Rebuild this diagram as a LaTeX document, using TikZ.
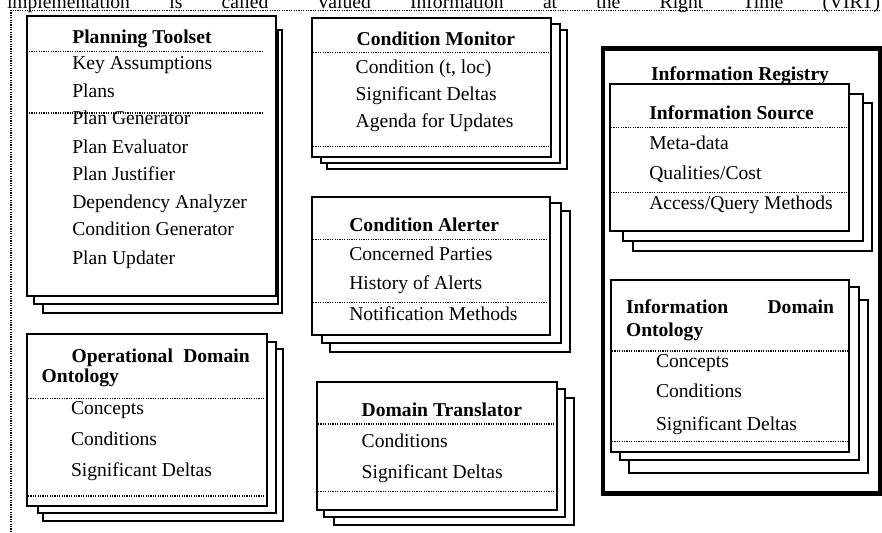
\documentclass[tikz,border=0pt]{standalone}
\usepackage{fontspec}
\setmainfont{Liberation Serif}
\begin{document}
\begin{tikzpicture}[x=1pt,y=-1pt,
  every node/.style={inner sep=0pt, outer sep=0pt, anchor=base west, font=\fontsize{19.6}{22}\selectfont},
  layer/.style={draw=black, line width=1.8pt, fill=white},
  sep/.style={line width=1.1pt, dash pattern=on 1.1pt off 1.3pt},
  frame/.style={line width=1.3pt, dash pattern=on 1.2pt off 1.2pt},
  ttl/.style={font=\fontsize{19.6}{22}\selectfont\bfseries},
  reg/.style={draw=black, line width=4.5pt}]
\useasboundingbox (0,0) rectangle (882,532);
\fill[white] (0,0) rectangle (882,532);

% running text line, cut at the top
\node (head) at (7,8.3) {\makebox[873pt][s]{implementation is called ``Valued Information at the Right Time (VIRT)}\rlap{''}};
\draw[frame] (11,532) -- (11,10.5) -- (882,10.5);

% Planning Toolset
\draw[layer] (43,30) rectangle (282,313);
\draw[layer] (34,30) rectangle (278,304);
\draw[layer] (27,16) rectangle (276,296);
\draw[sep] (29,51.7) -- (263,51.7);
\draw[sep] (29,113) -- (263,113);
\node[ttl] (pt) at (72.3,43.3) {Planning Toolset};
\node (pt1) at (72.3,70) {Key Assumptions};
\node (pt2) at (72.3,97.7) {Plans};
\node (pt3) at (72.3,124.3) {Plan Generator};
\node (pt4) at (72.3,153) {Plan Evaluator};
\node (pt5) at (72.3,180) {Plan Justifier};
\node (pt6) at (72.3,208) {Dependency Analyzer};
\node (pt7) at (72.3,235.3) {Condition Generator};
\node (pt8) at (72.3,264) {Plan Updater};

% Operational Domain Ontology
\draw[layer] (43,349) rectangle (283,521);
\draw[layer] (38,342) rectangle (276,513);
\draw[layer] (27,334) rectangle (267,506);
\draw[sep] (28,398.3) -- (265,398.3);
\draw[sep] (28,496) -- (265,496);
\node[ttl] (od) at (71.7,362.7) {\makebox[178pt][s]{Operational Domain}};
\node[ttl] (od0) at (41.7,382) {Ontology};
\node (od1) at (71,414.3) {Concepts};
\node (od2) at (71,445) {Conditions};
\node (od3) at (71,476.7) {Significant Deltas};

% Condition Monitor
\draw[layer] (327,30) rectangle (567,169);
\draw[layer] (321,24) rectangle (560,163);
\draw[layer] (312,18) rectangle (551,157);
\draw[sep] (313,52.3) -- (549,52.3);
\draw[sep] (313,146.7) -- (549,146.7);
\node[ttl] (cm) at (356.7,45.5) {Condition Monitor};
\node (cm1) at (355.7,73.5) {Condition (t, loc)};
\node (cm2) at (355.7,100) {Significant Deltas};
\node (cm3) at (355.7,128) {Agenda for Updates};

% Condition Alerter
\draw[layer] (330,211) rectangle (570,352);
\draw[layer] (322,203) rectangle (561,343);
\draw[layer] (312,197) rectangle (550,335);
\draw[sep] (313,239.3) -- (548,239.3);
\draw[sep] (313,302.7) -- (548,302.7);
\node[ttl] (ca) at (349.3,231) {Condition Alerter};
\node (ca1) at (349.3,260.3) {Concerned Parties};
\node (ca2) at (349.3,289.5) {History of Alerts};
\node (ca3) at (349.3,320.5) {Notification Methods};

% Domain Translator
\draw[layer] (334,398) rectangle (574,525);
\draw[layer] (324,389) rectangle (565,517);
\draw[layer] (317,382) rectangle (557,510);
\draw[sep] (318,424) -- (555,424);
\draw[sep] (318,491.7) -- (555,491.7);
\node[ttl] (dt) at (361.7,416.5) {Domain Translator};
\node (dt1) at (361.7,447.5) {Conditions};
\node (dt2) at (361.7,478.3) {Significant Deltas};

% Information Registry
\draw[reg] (603,48.7) rectangle (880,493.4);
\node[ttl] (ir) at (651,81) {Information Registry};

% Information Source
\draw[layer] (633,103) rectangle (872,251);
\draw[layer] (623,94) rectangle (863,241);
\draw[layer] (610,84) rectangle (849,231);
\draw[sep] (611,127.3) -- (848,127.3);
\draw[sep] (611,192.3) -- (848,192.3);
\node[ttl] (is) at (649.3,119) {Information Source};
\node (is1) at (649.3,149) {Meta-data};
\node (is2) at (649.3,179) {Qualities/Cost};
\node (is3) at (649.3,209) {Access/Query Methods};

% Information Domain Ontology
\draw[layer] (629,300) rectangle (868,473);
\draw[layer] (620,287) rectangle (859,460);
\draw[layer] (611,280) rectangle (849,452);
\draw[sep] (612,351) -- (848,351);
\draw[sep] (612,441.7) -- (848,441.7);
\node[ttl] (io) at (626,313.3) {\makebox[208pt][s]{Information Domain}};
\node[ttl] (io0) at (626,336.7) {Ontology};
\node (io1) at (656,367.3) {Concepts};
\node (io2) at (656,397.3) {Conditions};
\node (io3) at (656,430) {Significant Deltas};
\end{tikzpicture}
\end{document}
